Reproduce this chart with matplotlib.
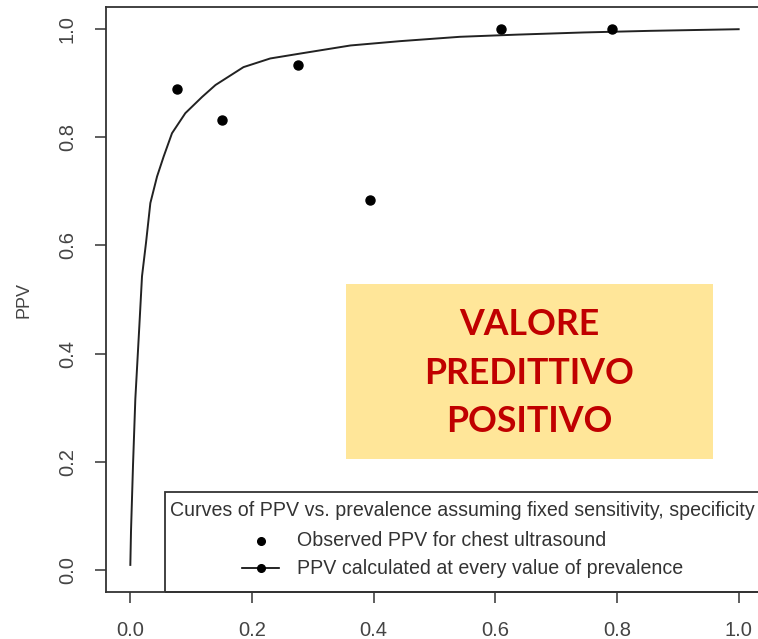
import matplotlib
matplotlib.use("Agg")
import matplotlib.pyplot as plt
from matplotlib.patches import Rectangle
from matplotlib.lines import Line2D

# observed PPV for chest ultrasound
obs_prev = [0.076, 0.150, 0.276, 0.394, 0.610, 0.792]
obs_ppv = [0.888, 0.831, 0.933, 0.684, 0.999, 1.000]

# PPV curve, points
curve_prev = [0.0, 0.0011, 0.0044, 0.0082, 0.0148, 0.0192, 0.0258, 0.0329, 0.0439,
              0.0548, 0.0685, 0.0904, 0.118, 0.140, 0.186, 0.230, 0.279, 0.362,
              0.444, 0.542, 0.636, 0.745, 0.855, 1.0]
curve_ppv = [0.01, 0.072, 0.194, 0.316, 0.451, 0.543, 0.605, 0.678, 0.727,
             0.764, 0.807, 0.844, 0.874, 0.896, 0.929, 0.945, 0.954, 0.969,
             0.977, 0.985, 0.989, 0.993, 0.996, 0.999]

tick_vals = [0.0, 0.2, 0.4, 0.6, 0.8, 1.0]
tick_labels = ["0.0", "0.2", "0.4", "0.6", "0.8", "1.0"]

legend_title = "Curves of PPV vs. prevalence assuming fixed sensitivity, specificity"
legend_labels = ["Observed PPV for chest ultrasound",
                 "PPV calculated at every value of prevalence"]
box_text = "VALORE\nPREDITTIVO\nPOSITIVO"

W, H = 758, 639
plt.rcParams["font.family"] = ["Liberation Sans", "DejaVu Sans"]
fig = plt.figure(figsize=(W / 100, H / 100), dpi=100)


def fx(px):
    return px / W


def fy(py):
    return 1 - py / H


ax = fig.add_axes([fx(106), fy(592), 657 / W, 585 / H])
ax.plot(curve_prev, curve_ppv, color="#222222", lw=1.4)
ax.plot(obs_prev, obs_ppv, "o", color="black", ms=6.5)
ax.set_xlim(-0.04, 1.04)
ax.set_ylim(-0.04, 1.04)
ax.set_xticks(tick_vals)
ax.set_xticklabels(tick_labels)
ax.set_yticks(tick_vals)
ax.set_yticklabels(tick_labels, rotation=90, va="center")
ax.tick_params(direction="out", length=8, width=1.1, labelsize=14.5,
               pad=13, colors="#333333", labelcolor="#444444")
for s in ax.spines.values():
    s.set_linewidth(1.3)
    s.set_color("#333333")
ax.set_ylabel("PPV", fontsize=13, color="#444444", labelpad=18)

# legend box, drawn by hand so it runs off the right edge like the original
fig.patches.append(Rectangle((fx(165), fy(592)), fx(620), 100 / H,
                             transform=fig.transFigure, fill=False,
                             edgecolor="#333333", lw=1.3))
fig.text(fx(170), fy(511), legend_title, fontsize=14.1, color="#333333",
         va="center", ha="left")
fig.lines.append(Line2D([fx(261)], [fy(541)], marker="o", ms=5.5,
                        color="black", transform=fig.transFigure))
fig.lines.append(Line2D([fx(242), fx(279)], [fy(568), fy(568)], lw=1.2,
                        color="black", transform=fig.transFigure))
fig.lines.append(Line2D([fx(261)], [fy(568)], marker="o", ms=5.5,
                        color="black", transform=fig.transFigure))
fig.text(fx(297), fy(541), legend_labels[0], fontsize=14.1, color="#333333",
         va="center", ha="left")
fig.text(fx(297), fy(568), legend_labels[1], fontsize=14.1, color="#333333",
         va="center", ha="left")

# yellow label box
fig.patches.append(Rectangle((fx(346), fy(459)), (713 - 346) / W, 175 / H,
                             transform=fig.transFigure, facecolor="#FFE699",
                             edgecolor="none"))
fig.text(fx(529), fy(373), box_text, fontsize=25.7, fontweight="bold",
         family=["Lato", "DejaVu Sans"], color="#C00000", ha="center",
         va="center", linespacing=1.58)

fig.savefig("out.png", dpi=100)
